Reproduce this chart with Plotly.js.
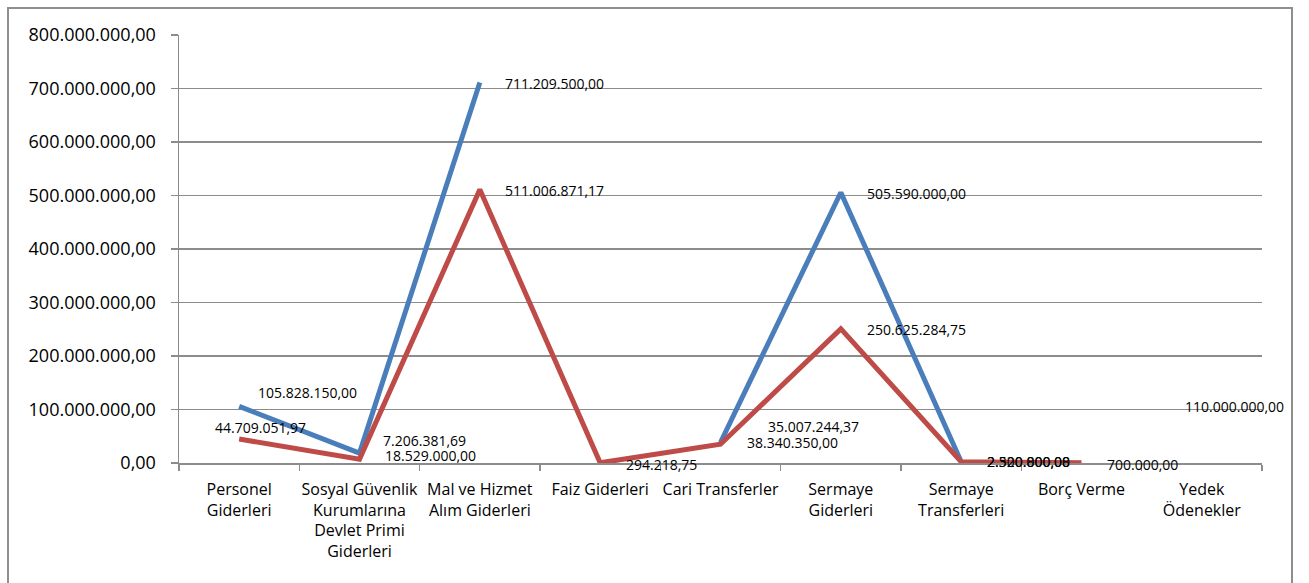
<!DOCTYPE html>
<html>
<head>
<meta charset="utf-8">
<script src="https://cdn.plot.ly/plotly-3.0.1.min.js"></script>
<style>
  html, body { margin: 0; padding: 0; background: #fff; overflow: hidden; }
  #chart { width: 1309px; height: 583px; position: absolute; left: 0; top: 0; }
  #frame { position: absolute; left: 7px; top: 7px; width: 1282px; height: 620px; border: 2px solid #8e8e8e; pointer-events: none; }
</style>
</head>
<body>
<div id="chart"></div>
<div id="frame"></div>
<script>
// ---- data ----
const categories = [
  "Personel<br>Giderleri",
  "Sosyal Güvenlik<br>Kurumlarına<br>Devlet Primi<br>Giderleri",
  "Mal ve Hizmet<br>Alım Giderleri",
  "Faiz Giderleri",
  "Cari Transferler",
  "Sermaye<br>Giderleri",
  "Sermaye<br>Transferleri",
  "Borç Verme",
  "Yedek<br>Ödenekler"
];
const blueValues = [105828150.00, 18529000.00, 711209500.00, null, 38340350.00, 505590000.00, 2500000.00, null, 110000000.00];
const redValues  = [44709051.97, 7206381.69, 511006871.17, 294218.75, 35007244.37, 250625284.75, 2320800.08, 700000.00, null];
const yTickValues = [0, 100000000, 200000000, 300000000, 400000000, 500000000, 600000000, 700000000, 800000000];

// label offsets (styling only): [xshift, yshift] in px, label anchored at its left edge
const blueLabelShift = [[17, 14], [23, -2], [23, -1], null, [24, 0], [24, -1], [24, 0], null, [-19, -2]];
const redLabelShift  = [[-26, 12], [21, 19], [23, -1], [24, -2], [45, 18], [24, -1], [24, 0], [23, -2], null];

function fmt(v) {
  const s = v.toFixed(2);
  const parts = s.split(".");
  const intPart = parts[0].replace(/\B(?=(\d{3})+(?!\d))/g, ".");
  return intPart + "," + parts[1];
}

const blueColor = "#4a7ebb";
const redColor = "#be4b48";

const traces = [
  { x: categories, y: blueValues, type: "scatter", mode: "lines", connectgaps: false,
    line: { color: blueColor, width: 5 }, hoverinfo: "skip", showlegend: false },
  { x: categories, y: redValues, type: "scatter", mode: "lines", connectgaps: false,
    line: { color: redColor, width: 5 }, hoverinfo: "skip", showlegend: false }
];

const annotations = [];
function addLabels(vals, shifts) {
  vals.forEach((v, i) => {
    if (v === null || !shifts[i]) return;
    annotations.push({
      x: categories[i], y: v, xref: "x", yref: "y",
      text: fmt(v), showarrow: false,
      xanchor: "left", yanchor: "middle",
      xshift: shifts[i][0], yshift: shifts[i][1],
      font: { family: "Open Sans, sans-serif", size: 14, color: "#000" }
    });
  });
}
addLabels(blueValues, blueLabelShift);
addLabels(redValues, redLabelShift);

const layout = {
  width: 1309, height: 583,
  margin: { l: 179, r: 47, t: 35, b: 120 },
  paper_bgcolor: "rgba(0,0,0,0)", plot_bgcolor: "rgba(0,0,0,0)",
  separators: ",.",
  showlegend: false,
  xaxis: {
    type: "category", range: [-0.5, 8.5],
    tickson: "boundaries", ticks: "outside", ticklen: 6, tickcolor: "#8c8c8c", tickwidth: 1.5,
    showline: true, linecolor: "#8c8c8c", linewidth: 1.5,
    showgrid: false, zeroline: false,
    tickfont: { family: "Open Sans, sans-serif", size: 16, color: "#000" },
    ticklabelstandoff: 11,
    tickangle: 0, automargin: false
  },
  yaxis: {
    range: [0, 800000000], tickvals: yTickValues, tickformat: ",.2f",
    ticks: "outside", ticklen: 7, tickcolor: "#8c8c8c", tickwidth: 1.5,
    showline: true, linecolor: "#8c8c8c", linewidth: 1.5,
    showgrid: true, gridcolor: "#8c8c8c", gridwidth: 1.5,
    zeroline: false,
    tickfont: { family: "Open Sans, sans-serif", size: 18, color: "#000" },
    ticklabelstandoff: 11,
    automargin: false
  },
  annotations: annotations
};

Plotly.newPlot("chart", traces, layout, { staticPlot: true, displayModeBar: false });
</script>
</body>
</html>
